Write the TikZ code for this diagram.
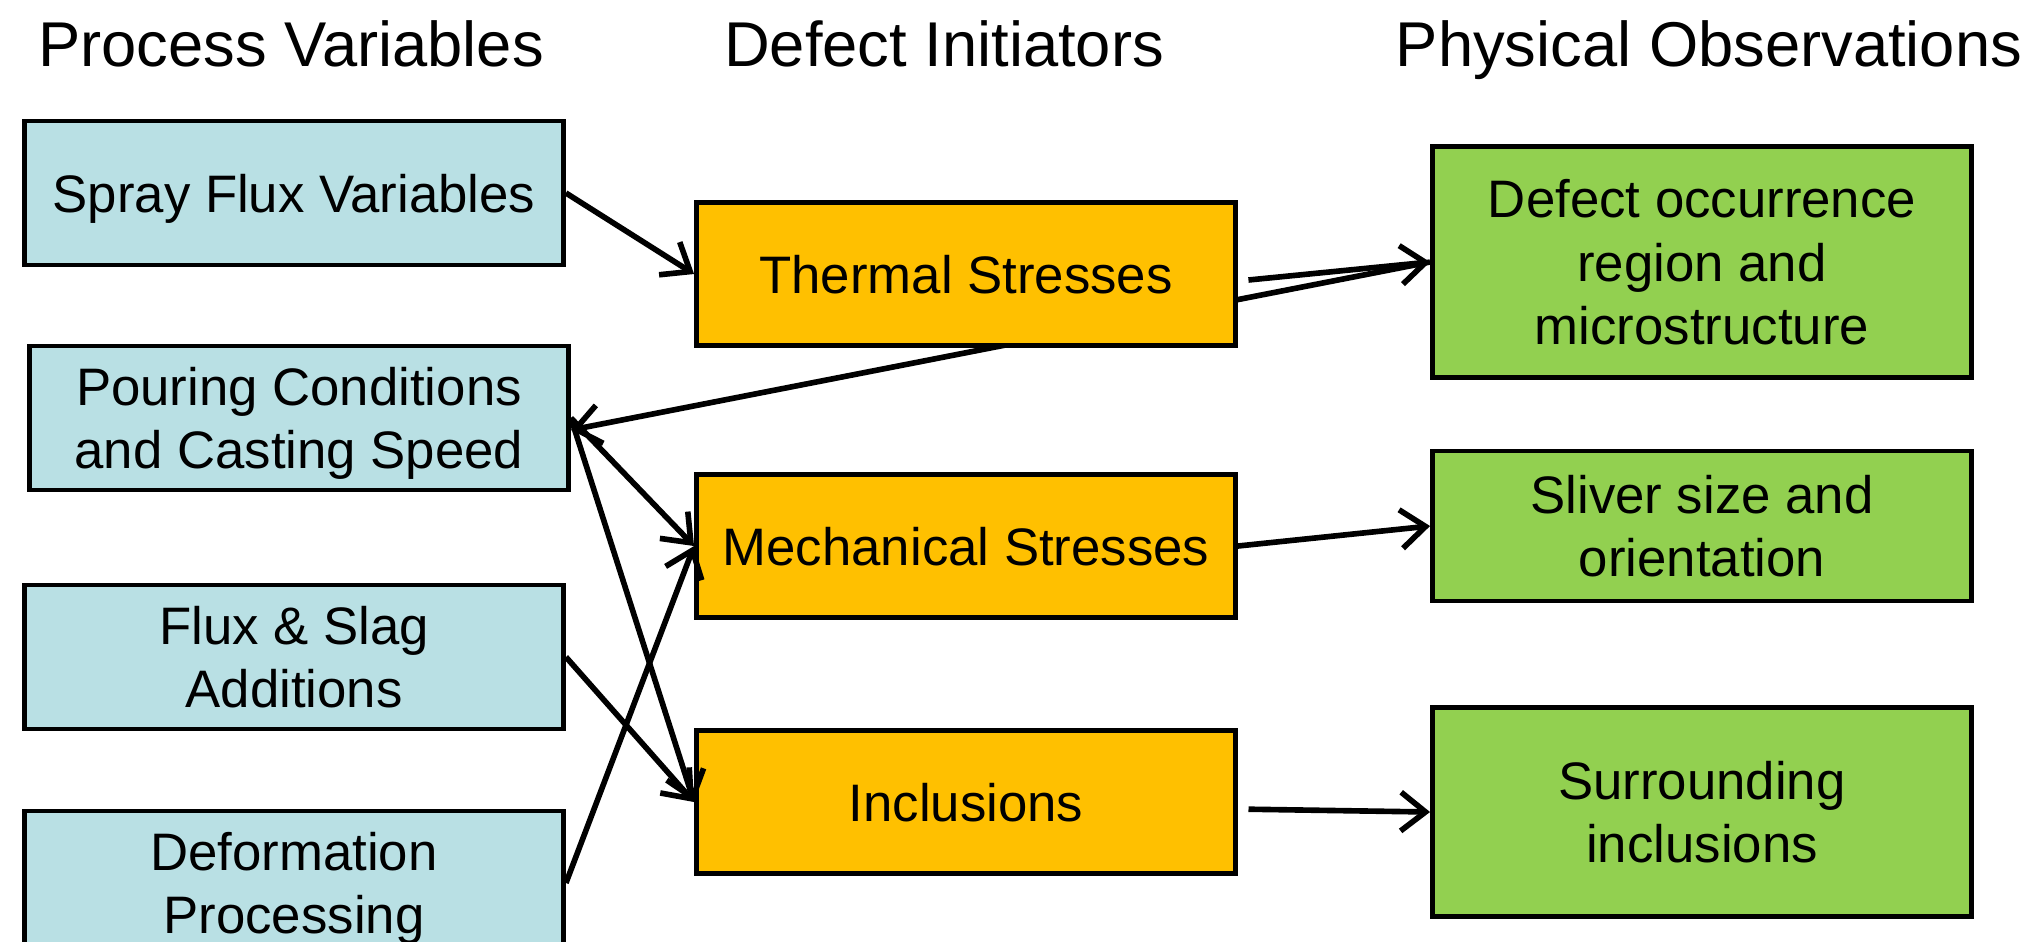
\documentclass[tikz,border=0pt]{standalone}
\usepackage{fontspec}
\setmainfont{Liberation Sans}
\usetikzlibrary{arrows.meta,backgrounds}
\definecolor{procblue}{RGB}{185,224,228}
\definecolor{initorange}{RGB}{255,192,0}
\definecolor{obsgreen}{RGB}{146,208,80}
\begin{document}
\begin{tikzpicture}[x=0.01cm, y=-0.01cm,
    box/.style = {draw, line width=1.3pt, minimum width=5.39cm, inner sep=0pt,
      align=center, text depth=0pt, font=\fontsize{15}{18}\selectfont},
    proc/.style = {box, fill=procblue, minimum height=1.44cm},
    init/.style = {box, fill=initorange, minimum height=1.43cm},
    obs/.style = {box, fill=obsgreen},
    head/.style = {anchor=base, font=\fontsize{18}{22}\selectfont},
    conn/.style = {-{Straight Barb[length=7pt,width=11pt]}, line width=1.6pt}]
        \path[use as bounding box, clip] (0,0) rectangle (2027,941);
        % column headings
        \node[head] (hproc) at (291,66) {Process Variables};
        \node[head] (hinit) at (944,66) {Defect Initiators};
        \node[head] (hobs) at (1709,66) {Physical Observations};
        % process variables
        \node[proc] (spray) at (294,193) {Spray Flux Variables};
        \node[proc] (pour) at (299,418) {Pouring Conditions\\and Casting Speed};
        \node[proc] (flux) at (294,657) {Flux \& Slag\\Additions};
        \node[proc] (deform) at (294,883) {Deformation\\Processing};
        % defect initiators
        \node[init] (thermal) at (966,274) {Thermal Stresses};
        \node[init] (mech) at (966,546) {Mechanical Stresses};
        \node[init] (incl) at (966,802) {Inclusions};
        % physical observations
        \node[obs, minimum height=2.31cm] (occur) at (1702,262) {Defect occurrence\\region and\\microstructure};
        \node[obs, minimum height=1.50cm] (sliver) at (1702,526) {Sliver size and\\orientation};
        \node[obs, minimum height=2.09cm] (surround) at (1702,812) {Surrounding\\inclusions};
        %
        \begin{scope}[on background layer]
          \draw[conn] (occur.west) -- ([yshift=-3.4pt]pour.east);
        \end{scope}
        \draw[conn] (spray.east) -- (thermal.west);
        \draw[conn] (pour.east) -- (mech.west);
        \draw[conn] (pour.east) -- (incl.west);
        \draw[conn] (flux.east) -- (incl.west);
        \draw[conn] (deform.east) -- (mech.west);
        \draw[conn, shorten <=3pt] ([yshift=-2pt]thermal.east) -- (occur.west);
        \draw[conn] (mech.east) -- (sliver.west);
        \draw[conn, shorten <=3pt] ([yshift=-2pt]incl.east) -- (surround.west);
      \end{tikzpicture}
\end{document}
